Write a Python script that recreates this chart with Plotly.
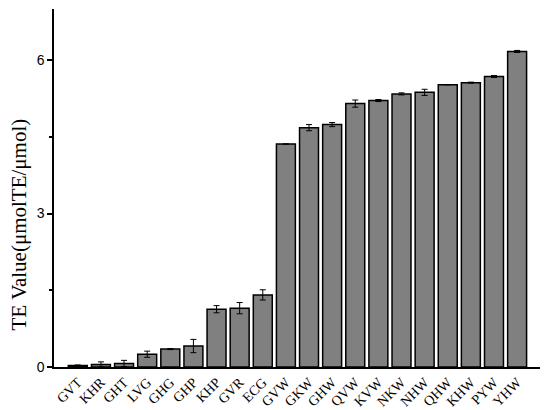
import plotly.graph_objects as go

categories = ["GVT", "KHR", "GHT", "LVG", "GHG", "GHP", "KHP", "GVR", "ECG", "GVW", "GKW",
              "GHW", "QVW", "KVW", "NKW", "NHW", "QHW", "KHW", "PYW", "YHW"]
values = [0.03, 0.05, 0.07, 0.25, 0.35, 0.41, 1.13, 1.15, 1.41, 4.36, 4.68,
          4.74, 5.15, 5.21, 5.34, 5.37, 5.52, 5.56, 5.68, 6.17]
errors = [0.01, 0.05, 0.06, 0.06, 0.01, 0.13, 0.07, 0.11, 0.10, 0.0, 0.06,
          0.04, 0.07, 0.02, 0.02, 0.06, 0.0, 0.01, 0.02, 0.02]
y_ticks = [0, 3, 6]
y_title = "TE Value(μmolTE/μmol)"

fig = go.Figure(go.Bar(
    x=categories, y=values,
    marker=dict(color="#808080", line=dict(color="black", width=1.5)),
    width=0.82,
    error_y=dict(type="data", array=errors, visible=True, color="black", thickness=1, width=3),
))

fig.add_annotation(
    text=y_title, textangle=-90,
    xref="paper", yref="paper", x=-0.073, y=0.397,
    xanchor="center", yanchor="middle", showarrow=False,
    font=dict(family="Liberation Serif", size=21, color="black"),
)

fig.update_layout(
    width=542, height=402,
    margin=dict(l=46, r=10, t=1, b=43),
    plot_bgcolor="white", paper_bgcolor="white",
    showlegend=False,
    xaxis=dict(
        range=[-1.03, 19.99],
        automargin=False,
        showline=True, linecolor="black", linewidth=1.5,
        ticks="", tickangle=-45,
        tickfont=dict(family="Liberation Serif", size=14, color="black"),
        showgrid=False, zeroline=False,
    ),
    yaxis=dict(
        range=[0, 7],
        automargin=False,
        tickvals=y_ticks,
        showline=True, linecolor="black", linewidth=1.5,
        ticks="outside", ticklen=5, tickwidth=1.5, tickcolor="black",
        minor=dict(ticks="outside", dtick=1.5, ticklen=3, tickwidth=1.5, tickcolor="black"),
        tickfont=dict(family="Liberation Sans", size=14, color="black"),
        showgrid=False, zeroline=False,
    ),
)

fig.write_html("out.html")
